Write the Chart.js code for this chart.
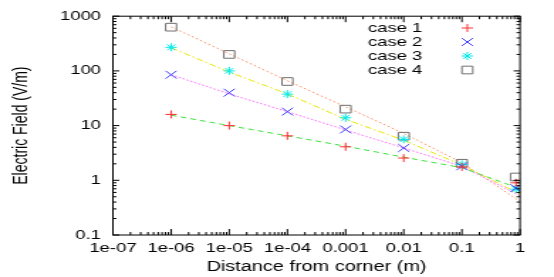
<!DOCTYPE html>
<html><head><meta charset="utf-8">
<script src="https://cdn.jsdelivr.net/npm/chart.js@4"></script>
<style>
html,body{margin:0;padding:0;background:#fff;overflow:hidden;width:554px;height:277px}
#wrap{position:absolute;left:0;top:0;width:390px;height:277px;transform:scaleX(1.4205);transform-origin:0 0}
</style></head><body>
<div id="wrap"><canvas id="c"></canvas></div>
<script>
// ---- data ----
const xTickValues = [1e-7, 1e-6, 1e-5, 1e-4, 1e-3, 1e-2, 1e-1, 1];
const xTickLabels = ['1e-07', '1e-06', '1e-05', '1e-04', '0.001', '0.01', '0.1', '1'];
const yTickValues = [0.1, 1, 10, 100, 1000];
const yTickLabels = ['0.1', '1', '10', '100', '1000'];
const seriesNames = ['case 1', 'case 2', 'case 3', 'case 4'];
const sampleX = [1e-6, 1e-5, 1e-4, 1e-3, 1e-2, 1e-1, 0.85];
const case1 = [16, 10, 6.5, 4.1, 2.55, 1.75, 0.9];
const case2 = [85, 40, 18, 8.5, 3.9, 1.8, 0.72];
const case3 = [270, 100, 37.6, 13.9, 5.6, 1.95, 0.69];
const case4 = [630, 200, 64, 20, 6.4, 2.05, 1.15];
const fitX = [1e-6, 1e-5, 1e-4, 1e-3, 1e-2, 1e-1, 1];
const fit1 = [15.5, 10, 6.5, 4.2, 2.65, 1.7, 0.7];
const fit2 = [85, 38, 18, 8.3, 3.9, 1.8, 0.52];
const fit3 = [265, 95, 38, 13, 5.4, 1.9, 0.56];
const fit4 = [640, 205, 66, 22, 7.2, 2.1, 0.41];

// ---- styles ----
const pointColors = ['#ff3030', '#3c3cff', '#00e8e8', '#707070'];
const pointStyles = ['cross', 'crossRot', 'star', 'rect'];
const pointRadii = [4, 5.5, 4, 5.4];
const lineColors = ['#3ee03e', '#ff66ff', '#e6e600', '#ff8a5a'];
const lineDashes = [[4, 3], [1.5, 1.5], [5, 2, 1.5, 2], [1.5, 2]];

Chart.defaults.font.family = "'Liberation Sans', Arial, Helvetica, sans-serif";
Chart.defaults.font.size = 13;
Chart.defaults.color = '#000';

const toPts = (xs, ys) => xs.map((v, i) => ({x: v, y: ys[i]}));
const caseData = [case1, case2, case3, case4];
const fitData = [fit1, fit2, fit3, fit4];

const datasets = [];
caseData.forEach((d, i) => datasets.push({
  label: seriesNames[i], data: toPts(sampleX, d), showLine: false,
  pointStyle: pointStyles[i], pointRadius: pointRadii[i], pointBorderWidth: 1,
  pointBorderColor: pointColors[i], pointBackgroundColor: 'rgba(0,0,0,0)', order: 1
}));
fitData.forEach((d, i) => datasets.push({
  label: 'fit ' + (i + 1), data: toPts(fitX, d), showLine: true, pointRadius: 0,
  borderColor: lineColors[i], borderWidth: 1, borderDash: lineDashes[i], tension: 0, order: 2
}));

function drawSym(ctx, style, x, y, r, color) {
  ctx.save(); ctx.strokeStyle = color; ctx.lineWidth = 1; ctx.beginPath();
  if (style === 'cross' || style === 'star') { ctx.moveTo(x - r, y); ctx.lineTo(x + r, y); ctx.moveTo(x, y - r); ctx.lineTo(x, y + r); }
  if (style === 'crossRot' || style === 'star') { const o = r * Math.SQRT1_2; ctx.moveTo(x - o, y - o); ctx.lineTo(x + o, y + o); ctx.moveTo(x - o, y + o); ctx.lineTo(x + o, y - o); }
  if (style === 'rect') { const o = r * Math.SQRT1_2; ctx.rect(x - o, y - o, 2 * o, 2 * o); }
  ctx.stroke(); ctx.restore();
}

const framePlugin = {
  id: 'frame',
  afterDatasetsDraw(chart) {
    const {ctx, chartArea: a, scales: {x, y}} = chart;
    ctx.save();
    ctx.strokeStyle = '#000'; ctx.lineWidth = 1;
    ctx.strokeRect(a.left, a.top, a.right - a.left, a.bottom - a.top);
    ctx.beginPath();
    for (let e = -7; e <= 0; e++) {
      for (let m = 1; m <= 9; m++) {
        const v = m * Math.pow(10, e);
        if (v > 1.0000001) break;
        const px = x.getPixelForValue(v);
        const len = m === 1 ? 6 : 3;
        ctx.moveTo(px, a.bottom); ctx.lineTo(px, a.bottom - len);
        ctx.moveTo(px, a.top); ctx.lineTo(px, a.top + len);
      }
    }
    for (let e = -1; e <= 3; e++) {
      for (let m = 1; m <= 9; m++) {
        const v = m * Math.pow(10, e);
        if (v > 1000.0001) break;
        const py = y.getPixelForValue(v);
        const len = m === 1 ? 4.5 : 2.5;
        ctx.moveTo(a.left, py); ctx.lineTo(a.left + len, py);
        ctx.moveTo(a.right, py); ctx.lineTo(a.right - len, py);
      }
    }
    ctx.stroke();
    // legend
    ctx.font = "13px 'Liberation Sans', Arial, sans-serif";
    ctx.fillStyle = '#000'; ctx.textBaseline = 'middle'; ctx.textAlign = 'left';
    for (let i = 0; i < 4; i++) {
      const ly = 28 + i * 14;
      ctx.fillText(chart.data.datasets[i].label, 259, ly);
      drawSym(ctx, pointStyles[i], 329, ly, pointRadii[i], pointColors[i]);
    }
    ctx.restore();
  }
};

new Chart(document.getElementById('c'), {
  type: 'scatter',
  data: {datasets},
  options: {
    responsive: true, maintainAspectRatio: false, animation: false,
    layout: {padding: {top: 16, right: 23.9, left: 0, bottom: 0}},
    plugins: {legend: {display: false}, tooltip: {enabled: false}},
    scales: {
      x: {
        type: 'logarithmic', min: 1e-7, max: 1, position: 'bottom',
        grid: {display: false, drawTicks: false}, border: {display: false},
        afterBuildTicks: s => { s.ticks = xTickValues.map(v => ({value: v})); },
        afterFit: s => { s.height = 42; },
        ticks: {autoSkip: false, maxRotation: 0, padding: 6, callback: (v, i) => xTickLabels[i]},
        title: {display: true, text: 'Distance from corner (m)', font: {size: 14}, padding: {top: 0, bottom: 1}}
      },
      y: {
        type: 'logarithmic', min: 0.1, max: 1000,
        grid: {display: false, drawTicks: false}, border: {display: false},
        afterBuildTicks: s => { s.ticks = yTickValues.map(v => ({value: v})); },
        afterFit: s => { s.width = 79.5; },
        ticks: {autoSkip: false, padding: 8.4, callback: (v, i) => yTickLabels[i]},
        title: {display: true, text: 'Electric Field (V/m)', font: {size: 14}, padding: {top: 7, bottom: 0}}
      }
    }
  },
  plugins: [framePlugin]
});
</script>
</body></html>
